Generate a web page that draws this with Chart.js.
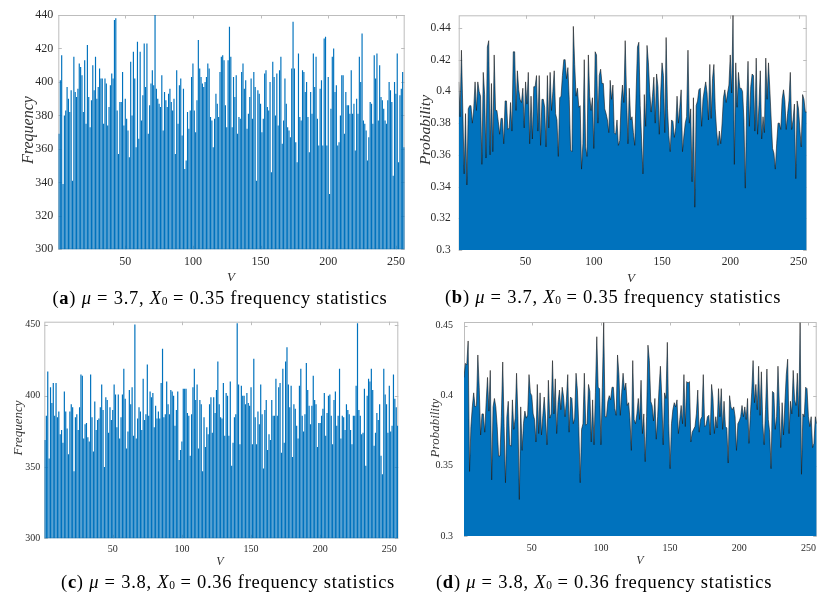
<!DOCTYPE html>
<html>
<head>
<meta charset="utf-8">
<script src="https://cdn.jsdelivr.net/npm/chart.js@4.4.1/dist/chart.umd.min.js"></script>
<style>
  body { margin: 0; width: 817px; height: 595px; overflow: hidden; background: #fff; position: relative; }
  canvas { position: absolute; }
  .t { position: absolute; white-space: nowrap; transform: translate(-50%, -50%); font-family: 'Liberation Serif', 'Times New Roman', serif; color: #333; font-style: italic; line-height: 1; }
  .rot { transform: translate(-50%, -50%) rotate(-90deg); }
  .cap { position: absolute; white-space: nowrap; transform: translate(-50%, -50%); font-family: 'Liberation Serif', 'Times New Roman', serif; font-size: 18.5px; letter-spacing: 0.75px; color: #000; line-height: 1; }
  .cap sub { font-size: 0.62em; vertical-align: -0.12em; letter-spacing: 0; }
</style>
</head>
<body>
<canvas id="cA" width="410" height="285" style="left:0;top:0"></canvas>
<canvas id="cB" width="407" height="285" style="left:410px;top:0"></canvas>
<canvas id="cC" width="410" height="260" style="left:0;top:305px"></canvas>
<canvas id="cD" width="412" height="260" style="left:410px;top:305px"></canvas>

<div class="t rot" style="left:28px;top:130px;font-size:16px">Frequency</div>
<div class="t" style="left:231px;top:276px;font-size:13px">V</div>
<div class="t rot" style="left:425px;top:130px;font-size:15.5px">Probability</div>
<div class="t" style="left:631px;top:277px;font-size:13px">V</div>
<div class="t rot" style="left:17px;top:428px;font-size:13px">Frequency</div>
<div class="t" style="left:220px;top:561px;font-size:12px">V</div>
<div class="t rot" style="left:434px;top:428px;font-size:13px">Probability</div>
<div class="t" style="left:640px;top:560px;font-size:12px">V</div>

<div class="cap" style="left:220px;top:298px">(<b>a</b>) <i>μ</i> = 3.7, <i>X</i><sub>0</sub> = 0.35 frequency statistics</div>
<div class="cap" style="left:613px;top:297px">(<b>b</b>) <i>μ</i> = 3.7, <i>X</i><sub>0</sub> = 0.35 frequency statistics</div>
<div class="cap" style="left:228px;top:582px">(<b>c</b>) <i>μ</i> = 3.8, <i>X</i><sub>0</sub> = 0.36 frequency statistics</div>
<div class="cap" style="left:604px;top:582px">(<b>d</b>) <i>μ</i> = 3.8, <i>X</i><sub>0</sub> = 0.36 frequency statistics</div>

<script>
// V = 1..256 (symbol values)
const V = Array.from({ length: 256 }, (_, i) => i + 1);
const xTicks = [50, 100, 150, 200, 250];

// (a) mu = 3.7, X0 = 0.35 -- frequency of each V
const freqA = [
  369,401,416,339,380,383,397,390,382,395, 341,415,394,391,396,411,409,404,382,413,
  375,422,391,373,389,410,395,415,390,397, 408,402,402,375,402,399,374,385,398,405,
  402,437,438,383,357,388,388,406,374,390, 378,371,355,412,380,418,402,361,424,366,
  418,377,392,423,397,423,369,386,399,407, 398,440,396,390,387,385,404,371,394,389,
  385,393,396,388,383,390,357,407,375,398, 402,368,396,348,353,382,372,383,403,411,
  383,370,389,425,408,403,399,397,400,403, 411,408,379,377,361,378,393,387,379,406,
  415,416,413,386,373,413,433,415,373,403, 391,404,369,379,378,406,411,396,401,372,
  381,391,402,378,406,397,341,395,393,387, 370,378,405,407,385,383,400,346,412,403,
  380,405,374,407,415,363,377,402,387,373, 371,367,408,436,408,364,352,417,379,377,
  407,406,394,400,379,358,394,381,417,397, 415,378,362,396,401,362,426,427,362,403,
  333,384,415,420,394,398,362,364,380,404, 404,369,394,386,386,381,407,381,387,359,
  390,381,415,400,429,377,375,371,353,367, 388,387,375,416,402,417,377,410,391,389,
  384,377,375,389,400,395,388,344,400,393, 417,352,392,396,406,361
];

// (b) mu = 3.7, X0 = 0.35 -- probability of each V
const probB = [
  0.406,0.384,0.426,0.389,0.348,0.386,0.341,0.389,0.391,0.391, 0.380,0.389,0.406,0.388,0.406,0.400,0.397,0.354,0.412,0.398,
  0.358,0.428,0.432,0.360,0.405,0.362,0.423,0.388,0.388,0.381, 0.373,0.383,0.383,0.367,0.394,0.394,0.376,0.377,0.393,0.375,
  0.425,0.425,0.388,0.413,0.401,0.395,0.393,0.402,0.377,0.406, 0.392,0.412,0.367,0.397,0.370,0.403,0.403,0.410,0.375,0.410,
  0.366,0.395,0.395,0.390,0.365,0.410,0.377,0.412,0.388,0.400, 0.413,0.386,0.382,0.359,0.396,0.397,0.410,0.420,0.420,0.408,
  0.415,0.395,0.363,0.362,0.441,0.417,0.397,0.402,0.390,0.391, 0.351,0.367,0.420,0.365,0.359,0.423,0.397,0.388,0.396,0.364,
  0.425,0.423,0.380,0.410,0.414,0.405,0.405,0.389,0.386,0.382, 0.374,0.407,0.395,0.404,0.374,0.373,0.382,0.366,0.369,0.393,
  0.404,0.393,0.432,0.397,0.367,0.402,0.382,0.384,0.374,0.366, 0.399,0.428,0.431,0.391,0.370,0.348,0.398,0.378,0.429,0.418,
  0.400,0.387,0.397,0.409,0.380,0.411,0.403,0.373,0.399,0.418, 0.410,0.374,0.434,0.389,0.372,0.362,0.382,0.381,0.371,0.377,
  0.397,0.380,0.390,0.401,0.362,0.372,0.380,0.384,0.426,0.380, 0.389,0.343,0.396,0.327,0.391,0.394,0.401,0.402,0.378,0.395,
  0.401,0.406,0.399,0.382,0.417,0.383,0.408,0.417,0.389,0.375, 0.366,0.375,0.367,0.380,0.396,0.401,0.393,0.399,0.404,0.423,
  0.399,0.448,0.354,0.418,0.390,0.412,0.402,0.402,0.400,0.382, 0.339,0.391,0.419,0.378,0.403,0.411,0.410,0.375,0.421,0.373,
  0.391,0.413,0.370,0.384,0.374,0.421,0.395,0.418,0.401,0.382, 0.364,0.361,0.351,0.367,0.380,0.380,0.376,0.395,0.401,0.394,
  0.376,0.386,0.394,0.412,0.376,0.382,0.392,0.345,0.394,0.389, 0.376,0.365,0.398,0.395,0.387,0.387
];

// (c) mu = 3.8, X0 = 0.36 -- frequency of each V
const freqC = [
  369,386,417,356,406,395,409,386,409,385, 389,373,376,367,403,389,377,359,389,394,
  392,347,385,387,376,392,415,414,370,380, 381,371,368,415,385,361,396,376,383,384,
  392,408,390,350,399,397,374,392,383,390, 408,401,378,401,370,385,401,419,398,363,
  375,404,394,406,372,450,370,384,392,389, 376,412,383,387,422,386,403,399,402,378,
  393,384,389,384,409,433,385,387,410,394, 387,404,403,400,379,390,403,355,362,368,
  405,405,405,388,386,358,387,406,419,397, 408,363,397,394,347,385,364,378,373,394,
  399,374,399,388,404,424,394,385,384,409, 372,402,400,372,410,351,367,385,387,451,
  408,366,407,400,400,394,402,395,393,406, 366,426,385,366,389,380,408,387,349,390,
  397,362,373,369,397,386,386,412,386,406, 409,360,419,367,424,434,408,392,407,357,
  394,391,379,370,407,419,386,375,387,423, 404,393,380,393,414,397,394,364,381,381,
  386,391,402,372,388,400,401,386,366,397, 403,379,386,419,370,386,385,376,394,390,
  387,376,366,386,386,407,451,390,386,373, 374,405,351,400,412,410,419,404,365,374,
  388,383,394,358,345,419,401,394,374,407, 375,379,415,398,392,379
];

// (d) mu = 3.8, X0 = 0.36 -- probability of each V
const probD = [
  0.413,0.423,0.422,0.439,0.346,0.378,0.392,0.402,0.392,0.393, 0.429,0.406,0.372,0.387,0.387,0.374,0.395,0.413,0.389,0.418,
  0.340,0.392,0.398,0.392,0.378,0.357,0.357,0.385,0.424,0.378, 0.338,0.385,0.396,0.365,0.364,0.397,0.376,0.384,0.416,0.385,
  0.326,0.392,0.361,0.380,0.389,0.384,0.386,0.415,0.402,0.400, 0.387,0.383,0.367,0.408,0.373,0.402,0.372,0.386,0.399,0.384,
  0.365,0.411,0.384,0.387,0.425,0.387,0.412,0.373,0.395,0.404, 0.390,0.406,0.399,0.385,0.396,0.415,0.374,0.399,0.398,0.380,
  0.384,0.416,0.404,0.378,0.338,0.376,0.380,0.416,0.379,0.380, 0.408,0.403,0.367,0.397,0.365,0.402,0.442,0.406,0.405,0.365,
  0.406,0.452,0.385,0.385,0.396,0.400,0.397,0.406,0.406,0.391, 0.386,0.429,0.415,0.386,0.402,0.416,0.404,0.409,0.393,0.395,
  0.383,0.361,0.425,0.383,0.380,0.387,0.398,0.383,0.411,0.373, 0.387,0.353,0.385,0.436,0.425,0.396,0.393,0.382,0.398,0.369,
  0.385,0.405,0.421,0.399,0.365,0.402,0.398,0.438,0.380,0.348, 0.380,0.390,0.395,0.392,0.397,0.373,0.383,0.393,0.380,0.415,
  0.378,0.410,0.409,0.410,0.367,0.374,0.376,0.378,0.387,0.404, 0.374,0.383,0.385,0.415,0.378,0.379,0.385,0.386,0.372,0.408,
  0.398,0.373,0.385,0.377,0.405,0.385,0.405,0.376,0.396,0.378, 0.377,0.352,0.400,0.392,0.390,0.392,0.385,0.361,0.380,0.382,
  0.385,0.393,0.385,0.392,0.383,0.398,0.366,0.386,0.402,0.425, 0.395,0.408,0.390,0.421,0.386,0.417,0.380,0.365,0.390,0.419,
  0.383,0.374,0.348,0.403,0.402,0.376,0.385,0.421,0.393,0.363, 0.395,0.372,0.395,0.415,0.426,0.373,0.396,0.387,0.418,0.397,
  0.393,0.416,0.385,0.452,0.344,0.387,0.385,0.406,0.405,0.385, 0.378,0.385,0.363,0.366,0.385,0.380
];

const yTicksA = [300, 320, 340, 360, 380, 400, 420, 440];
const yTicksB = [0.3, 0.32, 0.34, 0.36, 0.38, 0.4, 0.42, 0.44];
const yTicksC = [300, 350, 400, 450];
const yTicksD = [0.3, 0.35, 0.4, 0.45];

const serif = "'Liberation Serif', 'Times New Roman', serif";
const blue = '#0072BD';

// box + inward ticks like a MATLAB axes, under the data
const boxPlugin = {
  id: 'matlabBox',
  beforeDatasetsDraw(chart) {
    const { ctx, chartArea: a, scales: { x, y } } = chart;
    const tl = 3.5;
    ctx.save();
    ctx.strokeStyle = '#bdbdbd';
    ctx.lineWidth = 1;
    ctx.strokeRect(a.left + 0.5, a.top + 0.5, a.width - 1, a.height - 1);
    ctx.beginPath();
    x.ticks.forEach(t => {
      const px = Math.round(x.getPixelForValue(t.value)) + 0.5;
      ctx.moveTo(px, a.top); ctx.lineTo(px, a.top + tl);
      ctx.moveTo(px, a.bottom); ctx.lineTo(px, a.bottom - tl);
    });
    y.ticks.forEach(t => {
      const py = Math.round(y.getPixelForValue(t.value)) + 0.5;
      ctx.moveTo(a.left, py); ctx.lineTo(a.left + tl, py);
      ctx.moveTo(a.right, py); ctx.lineTo(a.right - tl, py);
    });
    ctx.stroke();
    ctx.restore();
  }
};

function makePanel(id, type, values, yTicks, yMin, yMax, g) {
  const points = values.map((v, i) => ({ x: V[i], y: v }));
  const isBar = type === 'bar';
  const ds = isBar
    ? { data: points, backgroundColor: blue, borderWidth: 0, barPercentage: 0.86, categoryPercentage: 1 }
    : { data: points, backgroundColor: blue, borderColor: 'rgba(25,25,25,0.85)', borderWidth: 0.7,
        fill: 'start', pointRadius: 0, tension: 0 };

  new Chart(document.getElementById(id), {
    type,
    data: { datasets: [ds] },
    options: {
      responsive: false,
      animation: false,
      events: [],
      layout: { padding: { top: g.padT, right: g.padR, left: 0, bottom: 0 } },
      plugins: { legend: { display: false }, tooltip: { enabled: false } },
      scales: {
        x: {
          type: 'linear',
          min: isBar ? 0.5 : 1,
          max: isBar ? 256.5 : 256,
          offset: false,
          grid: { display: false, drawTicks: false },
          border: { display: false },
          afterBuildTicks: s => { s.ticks = xTicks.map(v => ({ value: v })); },
          afterFit: s => { s.height = g.xH; },
          ticks: { autoSkip: false, maxRotation: 0, padding: g.xPad, color: '#2b2b2b',
                   font: { family: serif, size: g.fs }, callback: v => String(v) }
        },
        y: {
          min: yMin,
          max: yMax,
          grid: { display: false, drawTicks: false },
          border: { display: false },
          afterBuildTicks: s => { s.ticks = yTicks.map(v => ({ value: v })); },
          afterFit: s => { s.width = g.yW; },
          ticks: { autoSkip: false, padding: g.yPad, color: '#2b2b2b',
                   font: { family: serif, size: g.fs }, callback: v => String(v) }
        }
      }
    },
    plugins: [boxPlugin]
  });
}

makePanel('cA', 'bar',  freqA, yTicksA, 300, 440,
  { padT: 15, padR: 4.3, yW: 58.3, xH: 35.7, fs: 12, yPad: 5, xPad: 5 });
makePanel('cB', 'line', probB, yTicksB, 0.3, 0.448,
  { padT: 15.3, padR: 10.3, yW: 48.7, xH: 35, fs: 11.5, yPad: 8, xPad: 5 });
makePanel('cC', 'bar',  freqC, yTicksC, 300, 452,
  { padT: 16.7, padR: 11.7, yW: 44.3, xH: 26.7, fs: 10, yPad: 4, xPad: 5 });
makePanel('cD', 'line', probD, yTicksD, 0.3, 0.4525,
  { padT: 16.7, padR: 3.7, yW: 54, xH: 29, fs: 10, yPad: 11, xPad: 6 });
</script>
</body>
</html>
